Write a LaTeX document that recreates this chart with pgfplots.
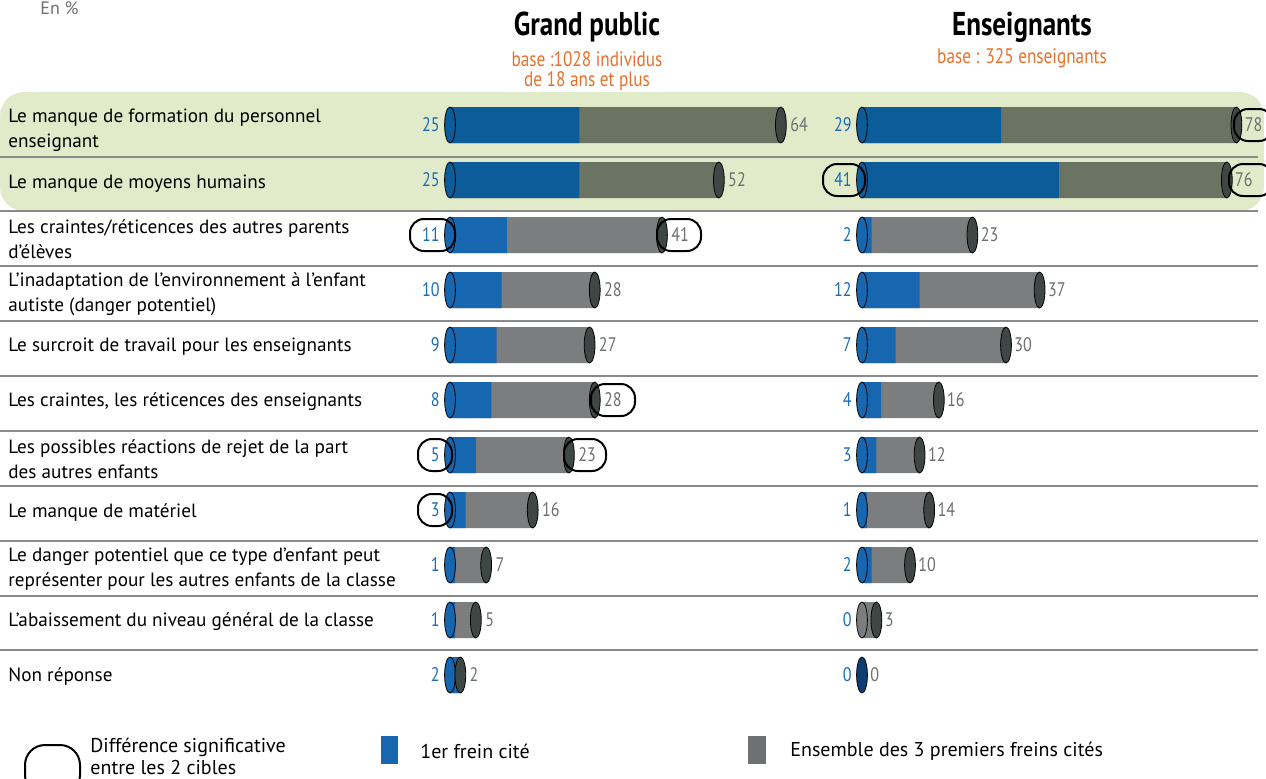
\documentclass[border=0pt]{standalone}
\usepackage{pgfplots}
\pgfplotsset{compat=1.18}
\usepackage{fontspec}
\setmainfont{PT Sans}
\newfontfamily\condfont[FakeStretch=0.82]{PT Sans}
\definecolor{bluA}{HTML}{0B5C99}
\definecolor{grayA}{HTML}{6B7362}
\definecolor{bluB}{HTML}{1766B0}
\definecolor{grayB}{HTML}{7B7D7F}
\definecolor{capc}{HTML}{3E4743}
\definecolor{capblue}{HTML}{0D3E73}
\definecolor{bgg}{HTML}{E2EBC9}
\definecolor{numblue}{HTML}{1B6DB4}
\definecolor{numgray}{HTML}{6E6E6E}
\definecolor{orng}{HTML}{E8702A}
\definecolor{sepc}{HTML}{8A8A8A}
\pgfplotsset{
  cyl/.style={xbar, bar width=18pt, bar shift=0pt, draw=none, fill=#1},
  capm/.style={only marks, mark=*, mark size=9pt, mark options={xscale=0.3, draw=none, fill=#1}},
  lblfirst/.style={draw=none, nodes near coords, point meta=explicit symbolic,
     nodes near coords style={anchor=east, text=numblue, xshift=-4pt, inner sep=1pt, font=\condfont\fontsize{9.8}{10}\selectfont}},
  lbltot/.style={draw=none, nodes near coords, point meta=explicit symbolic,
     nodes near coords style={anchor=west, text=numgray, xshift=#1, inner sep=1pt, font=\condfont\fontsize{9.8}{10}\selectfont}},
  panel/.style={scale only axis, y=27.5pt, y dir=reverse,
     xmin=0, xmax=78, ymin=-0.5, ymax=10.5, axis lines=none, clip=false,
     anchor=north west}
}
\begin{document}
\begin{tikzpicture}[x=0.5pt,y=-0.5pt]
\useasboundingbox (0,0) rectangle (1266,778);
\fill[bgg, rounded corners=12pt] (0,92) rectangle (1264,211);
\foreach \yy in {157,211,266,321,376,431,486,541,596,650}
  \draw[sepc, line width=0.7pt] (0,\yy) -- (1258,\yy);

\node[anchor=base west, text=numgray, font=\fontsize{9}{10}\selectfont, inner sep=0pt] at (40,14) {En \%};
\node[font=\condfont\bfseries\fontsize{16.5}{17}\selectfont] at (587,27) {Grand public};
\node[text=orng, font=\condfont\fontsize{10.5}{10.3}\selectfont, align=center] at (587,71) {base :1028 individus\\de 18 ans et plus};
\node[font=\condfont\bfseries\fontsize{16.5}{17}\selectfont] at (1022,27) {Enseignants};
\node[text=orng, font=\condfont\fontsize{10.5}{10.3}\selectfont] at (1022,58) {base : 325 enseignants};

\begin{scope}[every node/.style={anchor=west, align=left, inner sep=0pt, font=\fontsize{9.6}{12.4}\selectfont}]
\node at (8,130) {Le manque de formation du personnel\\enseignant};
\node at (8,184) {Le manque de moyens humains};
\node at (8,239) {Les craintes/réticences des autres parents\\d’élèves};
\node at (8,294) {L’inadaptation de l’environnement à l’enfant\\autiste (danger potentiel)};
\node at (8,347) {Le surcroit de travail pour les enseignants};
\node at (8,402) {Les craintes, les réticences des enseignants};
\node at (8,459) {Les possibles réactions de rejet de la part\\des autres enfants};
\node at (8,512) {Le manque de matériel};
\node at (8,569) {Le danger potentiel que ce type d’enfant peut\\représenter pour les autres enfants de la classe};
\node at (8,622) {L’abaissement du niveau général de la classe};
\node at (8,676) {Non réponse};
\end{scope}

% Grand public
\begin{axis}[panel, x=2.585pt, at={(225pt,-48.75pt)}]
\addplot[cyl=grayA] coordinates {(64,0) (52,1)};
\addplot[cyl=grayB] coordinates {(41,2) (28,3) (27,4) (28,5) (23,6) (16,7) (7,8) (5,9) (2,10)};
\addplot[cyl=bluA] coordinates {(25,0) (25,1)};
\addplot[cyl=bluB] coordinates {(11,2) (10,3) (9,4) (8,5) (5,6) (3,7) (1,8) (1,9) (2,10)};
\addplot[capm=bluA] coordinates {(0,0) (0,1)};
\addplot[capm=bluB] coordinates {(0,2) (0,3) (0,4) (0,5) (0,6) (0,7) (0,8) (0,9) (0,10)};
\addplot[capm=capc] coordinates {(64,0) (52,1) (41,2) (28,3) (27,4) (28,5) (23,6) (16,7) (7,8) (5,9) (2,10)};
\addplot[lblfirst] coordinates {(0,0) [25] (0,1) [25] (0,2) [11] (0,3) [10] (0,4) [9] (0,5) [8] (0,6) [5] (0,7) [3] (0,8) [1] (0,9) [1] (0,10) [2]};
\addplot[lbltot=3.5pt] coordinates {(64,0) [64] (52,1) [52] (41,2) [41] (28,3) [28] (27,4) [27] (28,5) [28] (23,6) [23] (16,7) [16] (7,8) [7] (5,9) [5] (2,10) [2]};
\end{axis}

% Enseignants
\begin{axis}[panel, x=2.4pt, at={(431pt,-48.75pt)}]
\addplot[cyl=grayA] coordinates {(78,0) (76,1)};
\addplot[cyl=grayB] coordinates {(23,2) (37,3) (30,4) (16,5) (12,6) (14,7) (10,8) (3,9)};
\addplot[cyl=bluA] coordinates {(29,0) (41,1)};
\addplot[cyl=bluB] coordinates {(2,2) (12,3) (7,4) (4,5) (3,6) (1,7) (2,8)};
\addplot[capm=bluA] coordinates {(0,0) (0,1)};
\addplot[capm=bluB] coordinates {(0,2) (0,3) (0,4) (0,5) (0,6) (0,7) (0,8)};
\addplot[capm=grayB] coordinates {(0,9)};
\addplot[capm=capc] coordinates {(78,0) (76,1) (23,2) (37,3) (30,4) (16,5) (12,6) (14,7) (10,8) (3,9)};
\addplot[capm=capblue] coordinates {(0,10)};
\addplot[lblfirst] coordinates {(0,0) [29] (0,1) [41] (0,2) [2] (0,3) [12] (0,4) [7] (0,5) [4] (0,6) [3] (0,7) [1] (0,8) [2] (0,9) [0] (0,10) [0]};
\addplot[lbltot=3pt] coordinates {(78,0) [78] (76,1) [76] (23,2) [23] (37,3) [37] (30,4) [30] (16,5) [16] (12,6) [12] (14,7) [14] (10,8) [10] (3,9) [3] (0,10) [0]};
\end{axis}

% significance ovals
\begin{scope}[line width=1pt, rounded corners=7pt]
\draw (410,219) rectangle (455,251);
\draw (657,219) rectangle (701,251);
\draw (591,384) rectangle (635,416);
\draw (418,439) rectangle (452,471);
\draw (564,439) rectangle (606,471);
\draw (418,494) rectangle (452,526);
\draw (1234,109) rectangle (1273,141);
\draw (823,164) rectangle (865,196);
\draw (1229,164) rectangle (1273,196);
\end{scope}

% legend
\draw[line width=1pt, rounded corners=10pt] (25,745) rectangle (80,795);
\node[anchor=north west, align=left, font=\fontsize{10}{11}\selectfont, inner sep=0pt] at (90,738) {Différence significative\\entre les 2 cibles};
\fill[bluB] (381,736) rectangle (398,764);
\node[anchor=west, font=\fontsize{10}{11}\selectfont, inner sep=0pt] at (420,751) {1er frein cité};
\fill[grayB!90!black] (748,736) rectangle (766,764);
\node[anchor=west, font=\fontsize{10}{11}\selectfont, inner sep=0pt] at (790,751) {Ensemble des 3 premiers freins cités};
\end{tikzpicture}
\end{document}
